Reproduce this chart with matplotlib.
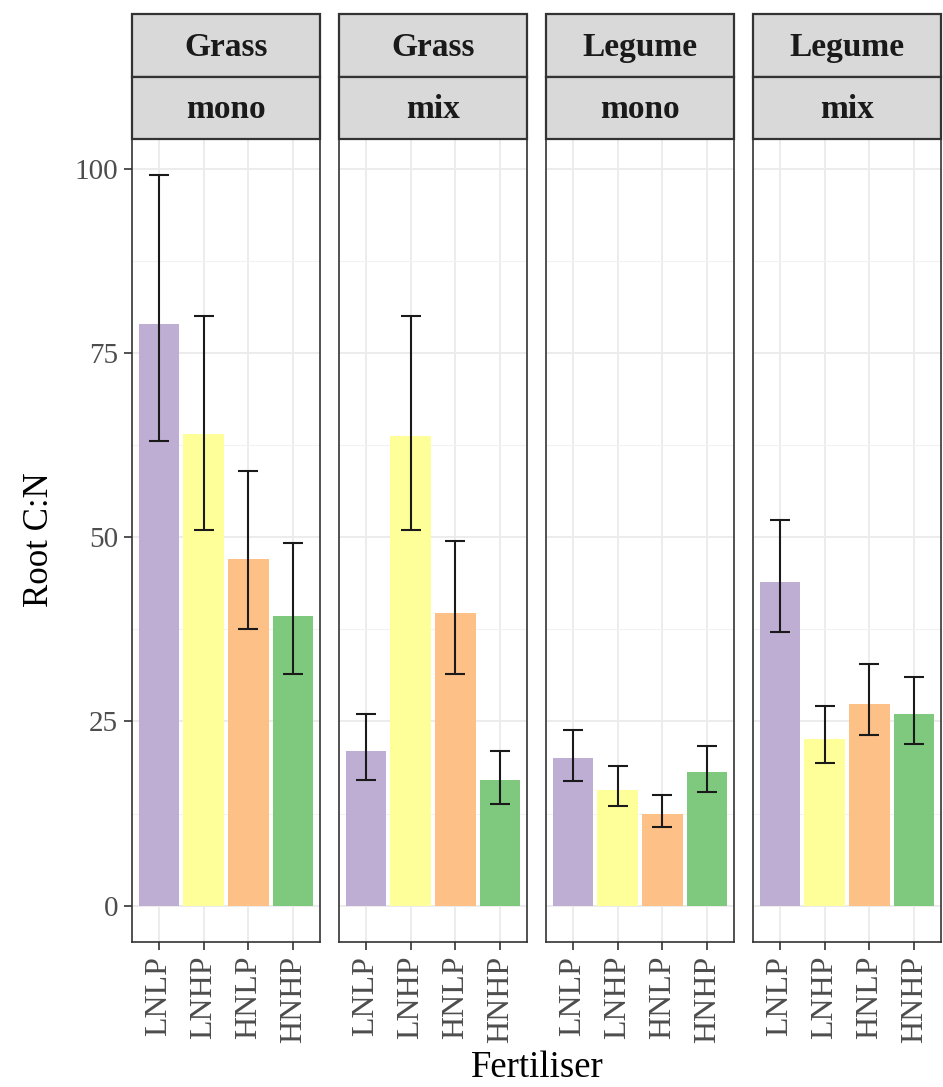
import numpy as np
import matplotlib.pyplot as plt
from matplotlib.patches import Rectangle

plt.rcParams['font.family'] = ['Liberation Serif', 'DejaVu Serif']

fertiliser = ['LNLP', 'LNHP', 'HNLP', 'HNHP']
species = ['Grass', 'Grass', 'Legume', 'Legume']
community = ['mono', 'mix', 'mono', 'mix']
colors = ['#BEAED4', '#FFFF99', '#FDC086', '#7FC97F']

# mean root C:N with lower / upper interval per panel
mean_cn = [[79.0, 64.0, 47.0, 39.3],
           [21.0, 63.8, 39.7, 17.0],
           [20.1, 15.7, 12.4, 18.1],
           [44.0, 22.6, 27.4, 26.0]]
lower_cn = [[63.1, 51.0, 37.5, 31.5],
            [17.0, 51.0, 31.5, 13.8],
            [16.9, 13.5, 10.6, 15.4],
            [37.1, 19.4, 23.2, 22.0]]
upper_cn = [[99.2, 80.0, 59.0, 49.3],
            [26.0, 80.0, 49.5, 21.0],
            [23.9, 19.0, 15.0, 21.7],
            [52.3, 27.1, 32.8, 31.0]]

W, H = 943, 1087
fig = plt.figure(figsize=(W / 100, H / 100), dpi=100, facecolor='white')

lefts = [132, 339, 546, 753]
pw = 188
top, bottom = 139, 942
strip_h = 62.5
border = '#333333'

x = np.arange(len(fertiliser))
for i in range(4):
    ax = fig.add_axes([lefts[i] / W, 1 - bottom / H, pw / W, (bottom - top) / H])
    m = np.array(mean_cn[i])
    lo = np.array(lower_cn[i])
    hi = np.array(upper_cn[i])
    ax.bar(x, m, width=0.9, color=colors, zorder=2)
    ax.errorbar(x, m, yerr=[m - lo, hi - m], fmt='none', ecolor='#1a1a1a',
                elinewidth=1.5, capsize=7.2, capthick=1.5, zorder=3)
    ax.set_xlim(-0.6, 3.6)
    ax.set_ylim(-4.95, 104.1)
    ax.set_xticks(x)
    ax.set_xticklabels(fertiliser, rotation=90, color='#4D4D4D')
    ax.set_yticks([0, 25, 50, 75, 100])
    ax.set_yticks([12.5, 37.5, 62.5, 87.5], minor=True)
    ax.grid(True, which='major', color='#EBEBEB', linewidth=1.3, zorder=0)
    ax.grid(True, which='minor', axis='y', color='#F2F2F2', linewidth=0.8, zorder=0)
    ax.set_axisbelow(True)
    ax.tick_params(axis='both', which='major', length=6, width=1.2, color=border,
                   labelcolor='#4D4D4D', pad=4)
    ax.tick_params(axis='x', labelsize=23)
    ax.tick_params(axis='y', labelsize=21)
    ax.tick_params(axis='y', which='minor', length=0)
    if i > 0:
        ax.tick_params(axis='y', which='major', left=False, labelleft=False)
    for s in ax.spines.values():
        s.set_color(border)
        s.set_linewidth(1.2)

    # facet strips
    for k, lab in enumerate([species[i], community[i]]):
        y0 = top - strip_h * (2 - k)
        sax = fig.add_axes([lefts[i] / W, 1 - (y0 + strip_h) / H, pw / W, strip_h / H])
        sax.set_xlim(0, 1)
        sax.set_ylim(0, 1)
        sax.add_patch(Rectangle((0, 0), 1, 1, facecolor='#D9D9D9', edgecolor=border,
                                linewidth=1.6, transform=sax.transAxes, clip_on=False))
        sax.text(0.5, 0.47, lab, ha='center', va='center', fontsize=24,
                 fontweight='bold', color='#1A1A1A')
        sax.axis('off')

fig.text(40 / W, 1 - 540 / H, 'Root C:N', rotation=90, ha='center', va='center',
         fontsize=25, color='black')
fig.text(537 / W, 1 - 1068 / H, 'Fertiliser', ha='center', va='center',
         fontsize=26.5, color='black')

fig.savefig('out.png', dpi=100)
